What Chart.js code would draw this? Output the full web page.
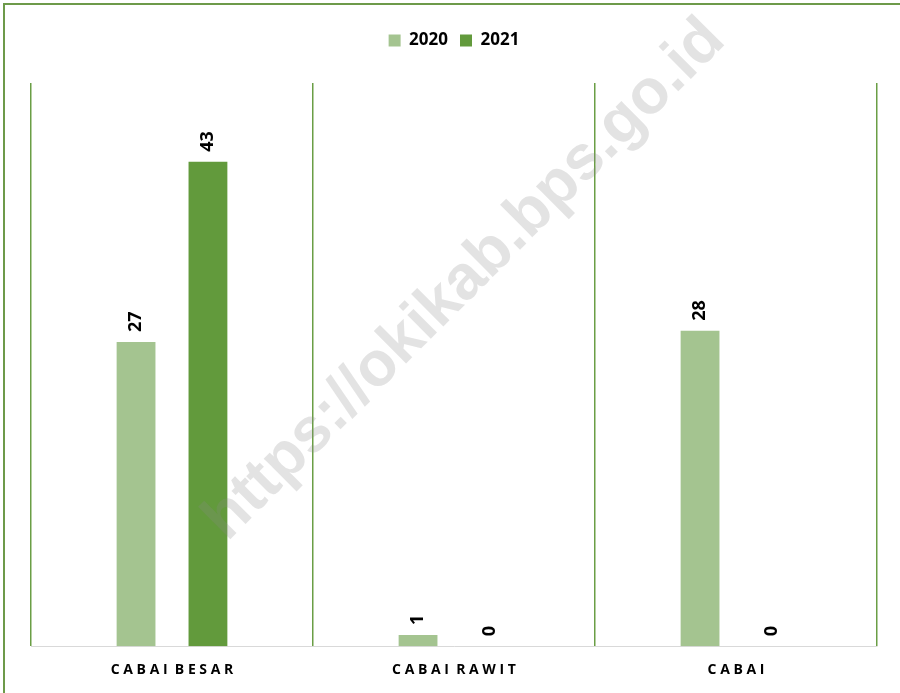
<!DOCTYPE html>
<html>
<head>
<meta charset="utf-8">
<script src="https://cdn.jsdelivr.net/npm/chart.js@4"></script>
<style>
  body { margin: 0; overflow: hidden; background: #fff; }
  #wrap { position: relative; width: 900px; height: 693px; overflow: hidden; }
  #flowChart { position: absolute; left: 0; top: 0; }
  #frame { position: absolute; left: 3px; top: 3px; width: 960px; height: 760px;
           border: 2px solid #6d9a4a; pointer-events: none; }
</style>
</head>
<body>
<div id="wrap">
  <canvas id="flowChart" width="900" height="693"></canvas>
  <div id="frame"></div>
</div>
<script>
// Dữ liệu
const categories = ['C A B A I  B E S A R', 'C A B A I  R A W I T', 'C A B A I'];
const series2020 = [27, 1, 28];
const series2021 = [43, 0, 0];
const seriesNames = ['2020', '2021'];

// Nhãn số xoay dọc trên mỗi cột
const barLabels = {
    id: 'barLabels',
    afterDatasetsDraw(chart) {
        const ctx = chart.ctx;
        ctx.save();
        ctx.font = 'bold 18px "Open Sans", sans-serif';
        ctx.fillStyle = '#000';
        ctx.textAlign = 'left';
        ctx.textBaseline = 'middle';
        chart.data.datasets.forEach((ds, i) => {
            chart.getDatasetMeta(i).data.forEach((bar, j) => {
                ctx.save();
                ctx.translate(bar.x, bar.y - 10);
                ctx.rotate(-Math.PI / 2);
                ctx.fillText(String(ds.data[j]), 0, 0);
                ctx.restore();
            });
        });
        ctx.restore();
    }
};

// Watermark chéo
const watermark = {
    id: 'watermark',
    afterDatasetsDraw(chart) {
        const ctx = chart.ctx;
        ctx.save();
        ctx.translate(465, 280);
        ctx.rotate(-Math.PI / 4);
        ctx.font = 'bold 63px "Liberation Sans", Arial, sans-serif';
        ctx.fillStyle = 'rgba(140, 140, 140, 0.24)';
        ctx.textAlign = 'center';
        ctx.textBaseline = 'middle';
        ctx.fillText('https://okikab.bps.go.id', 0, 0);
        ctx.restore();
    }
};

// Thêm khoảng trống dưới chú giải
const legendGap = {
    id: 'legendGap',
    beforeInit(chart) {
        const origFit = chart.legend.fit;
        chart.legend.fit = function() {
            origFit.bind(chart.legend)();
            this.height += 24;
        };
    }
};

document.addEventListener('DOMContentLoaded', function() {
    const ctx = document.getElementById('flowChart').getContext('2d');

    new Chart(ctx, {
        type: 'bar',
        data: {
            labels: categories,
            datasets: [
                {
                    label: seriesNames[0],
                    data: series2020,
                    backgroundColor: '#a4c490',
                    categoryPercentage: 0.51,
                    barPercentage: 0.54
                },
                {
                    label: seriesNames[1],
                    data: series2021,
                    backgroundColor: '#629a3c',
                    categoryPercentage: 0.51,
                    barPercentage: 0.54
                }
            ]
        },
        options: {
            responsive: false,
            animation: false,
            layout: { padding: { left: 31, right: 23, top: 20, bottom: 0 } },
            plugins: {
                legend: {
                    position: 'top',
                    align: 'center',
                    labels: {
                        boxWidth: 12,
                        boxHeight: 12,
                        padding: 12,
                        color: '#000',
                        font: { family: '"Open Sans", sans-serif', size: 17, weight: 'bold' }
                    }
                },
                tooltip: { enabled: false }
            },
            scales: {
                y: {
                    display: false,
                    min: 0,
                    max: 50
                },
                x: {
                    offset: true,
                    grid: {
                        display: true,
                        offset: true,
                        color: '#6a9e45',
                        lineWidth: 1.5,
                        drawTicks: false
                    },
                    border: { display: true, color: '#d9d9d9', width: 1 },
                    ticks: {
                        color: '#000',
                        padding: 15,
                        maxRotation: 0,
                        font: { family: '"Open Sans", sans-serif', size: 14, weight: 'bold' }
                    }
                }
            }
        },
        plugins: [legendGap, watermark, barLabels]
    });
});
</script>
</body>
</html>
